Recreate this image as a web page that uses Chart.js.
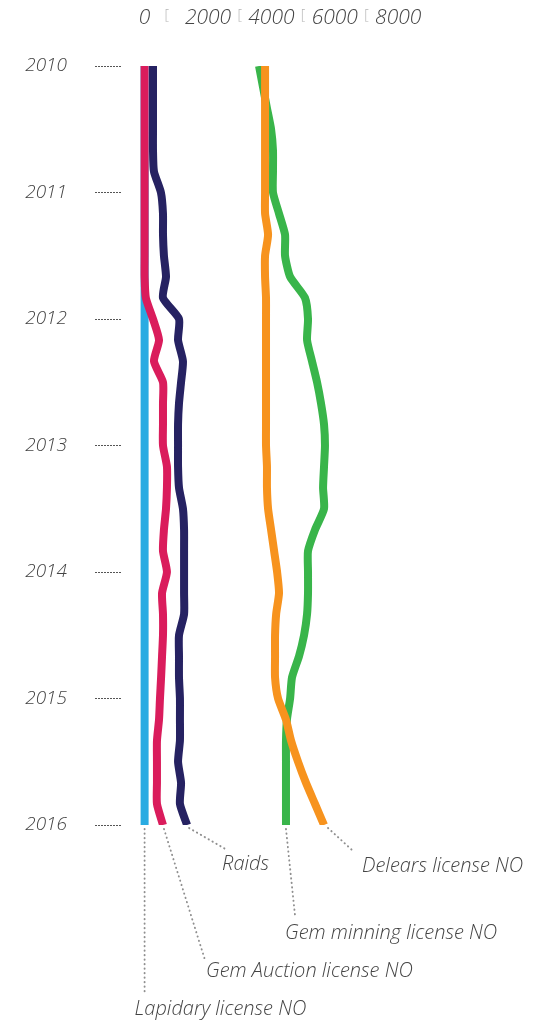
<!DOCTYPE html>
<html>
<head>
<meta charset="utf-8">
<title>Gem licences and raids 2010-2016</title>
<script src="https://cdn.jsdelivr.net/npm/chart.js@4.4.1/dist/chart.umd.min.js"></script>
<style>
  html, body { margin: 0; padding: 0; background: #fff; }
  #wrap { width: 533px; height: 1027px; position: relative; }
</style>
</head>
<body>
<div id="wrap"><canvas id="chart"></canvas></div>
<script>
// readings every two months, Jan 2010 .. Jan 2016
const periods = [
  '2010-01', '2010-03', '2010-05', '2010-07', '2010-09', '2010-11',
  '2011-01', '2011-03', '2011-05', '2011-07', '2011-09', '2011-11',
  '2012-01', '2012-03', '2012-05', '2012-07', '2012-09', '2012-11',
  '2013-01', '2013-03', '2013-05', '2013-07', '2013-09', '2013-11',
  '2014-01', '2014-03', '2014-05', '2014-07', '2014-09', '2014-11',
  '2015-01', '2015-03', '2015-05', '2015-07', '2015-09', '2015-11',
  '2016-01'
];

const lapidary = [
  0, 0, 0, 0, 0, 0, 0, 0, 0, 0, 0, 0, 0, 0, 0, 0, 0, 0, 0,
  0, 0, 0, 0, 0, 0, 0, 0, 0, 0, 0, 0, 0, 0, 0, 0, 0, 0
];
const gemAuction = [
  0, 0, 0, 0, 0, 0, 0, 0, 0, 0, 0, 40, 265, 455, 295, 580, 580, 580, 580,
  705, 705, 675, 610, 580, 705, 550, 580, 580, 550, 520, 485, 455, 390, 390, 390, 390, 580
];
const raids = [
  265, 265, 265, 265, 265, 295, 515, 580, 580, 610, 675, 580, 1085, 1055, 1210, 1150, 1085, 1055, 1055,
  1055, 1085, 1210, 1245, 1245, 1245, 1245, 1245, 1085, 1085, 1085, 1115, 1115, 1115, 1055, 1150, 1115, 1340
];
const gemMining = [
  3610, 3735, 3860, 3990, 4050, 4050, 4050, 4240, 4430, 4430, 4590, 5060, 5155, 5125, 5280, 5440, 5565, 5660, 5690,
  5660, 5630, 5660, 5375, 5155, 5155, 5155, 5125, 5030, 4870, 4650, 4590, 4490, 4460, 4460, 4460, 4460, 4460
];
const dealers = [
  3800, 3800, 3800, 3800, 3800, 3800, 3800, 3800, 3895, 3800, 3800, 3830, 3830, 3830, 3830, 3830, 3830, 3830, 3830,
  3860, 3860, 3895, 3990, 4085, 4180, 4240, 4150, 4115, 4115, 4115, 4210, 4460, 4620, 4840, 5090, 5375, 5660
];

const yearTicks = [2010, 2011, 2012, 2013, 2014, 2015, 2016];
const valueTicks = [0, 2000, 4000, 6000, 8000];
const separatorTicks = [700, 3000, 5000, 7000];

const toYear = p => {
  const [y, m] = p.split('-').map(Number);
  return y + (m - 1) / 12;
};
const points = vals => vals.map((v, i) => ({ x: v, y: toYear(periods[i]) }));

// leader lines + names under the line ends (offsets from last point)
const notes = [
  { series: 'Raids', text: 'Raids', from: [2, 3], to: [40, 25], at: [35, 39] },
  { series: 'Delears license NO', text: 'Delears license NO', from: [4, 3], to: [28, 25], at: [38, 41] },
  { series: 'Gem minning license NO', text: 'Gem minning license NO', from: [0, 4], to: [9, 90], at: [-1, 108] },
  { series: 'Gem Auction license NO', text: 'Gem Auction license NO', from: [1, 4], to: [42, 135], at: [43, 146] },
  { series: 'Lapidary license NO', text: 'Lapidary license NO', from: [0, 4], to: [0, 167], at: [-10, 184] }
];

const leaderPlugin = {
  id: 'leaders',
  afterDatasetsDraw(chart) {
    const ctx = chart.ctx;
    notes.forEach(n => {
      const i = chart.data.datasets.findIndex(d => d.label === n.series);
      const pts = chart.getDatasetMeta(i).data;
      const p = pts[pts.length - 1];
      ctx.save();
      ctx.strokeStyle = '#8f8f8f';
      ctx.lineWidth = 1.9;
      ctx.lineCap = 'round';
      ctx.setLineDash([0.3, 4.2]);
      ctx.beginPath();
      ctx.moveTo(p.x + n.from[0], p.y + n.from[1]);
      ctx.lineTo(p.x + n.to[0], p.y + n.to[1]);
      ctx.stroke();
      ctx.setLineDash([]);
      ctx.fillStyle = '#444';
      ctx.font = 'italic 300 20px "Open Sans", sans-serif';
      ctx.textBaseline = 'middle';
      ctx.textAlign = 'left';
      ctx.fillText(n.text, p.x + n.at[0], p.y + n.at[1]);
      ctx.restore();
    });
  }
};

Chart.defaults.font.family = '"Open Sans", sans-serif';
Chart.defaults.color = '#444';

const line = (label, vals, color) => ({
  label: label,
  data: points(vals),
  borderColor: color,
  backgroundColor: color,
  borderWidth: 8,
  borderCapStyle: 'butt',
  borderJoinStyle: 'round',
  pointRadius: 0,
  tension: 0.2,
  fill: false
});

const isSeparator = ctx => ctx.tick && separatorTicks.includes(ctx.tick.value);

new Chart(document.getElementById('chart'), {
  type: 'line',
  data: {
    // first dataset is drawn on top
    datasets: [
      line('Delears license NO', dealers, '#F7931E'),
      line('Gem Auction license NO', gemAuction, '#DA1C5C'),
      line('Raids', raids, '#262262'),
      line('Gem minning license NO', gemMining, '#39B54A'),
      line('Lapidary license NO', lapidary, '#29ABE2')
    ]
  },
  options: {
    indexAxis: 'y',
    responsive: true,
    maintainAspectRatio: false,
    animation: false,
    layout: { padding: { top: 0, right: 10, bottom: 202, left: 0 } },
    plugins: {
      legend: { display: false },
      tooltip: { enabled: false }
    },
    scales: {
      x: {
        type: 'linear',
        position: 'top',
        min: -713,
        max: 11937,
        afterFit: s => { s.height = 66; },
        afterBuildTicks: s => {
          s.ticks = valueTicks.concat(separatorTicks).sort((a, b) => a - b).map(v => ({ value: v }));
        },
        border: { display: false },
        grid: { display: false, drawTicks: false },
        ticks: {
          autoSkip: false,
          maxRotation: 0,
          minRotation: 0,
          padding: 35,
          callback: v => (separatorTicks.includes(v) ? '[' : String(v)),
          color: ctx => (isSeparator(ctx) ? '#b5b5b5' : '#444'),
          font: ctx => (isSeparator(ctx)
            ? { size: 14, weight: 300, lineHeight: 2.15 }
            : { size: 21, style: 'italic', weight: 300 })
        }
      },
      y: {
        type: 'linear',
        reverse: true,
        min: 2010,
        max: 2016,
        afterFit: s => { s.width = 122; },
        afterBuildTicks: s => { s.ticks = yearTicks.map(v => ({ value: v })); },
        border: { display: false },
        grid: {
          drawOnChartArea: false,
          drawTicks: true,
          tickLength: 27,
          tickColor: '#555',
          tickWidth: 1,
          tickBorderDash: [2, 1]
        },
        ticks: {
          padding: 28,
          callback: v => String(v),
          font: { size: 19, style: 'italic', weight: 300 }
        }
      }
    }
  },
  plugins: [leaderPlugin]
});
</script>
</body>
</html>
